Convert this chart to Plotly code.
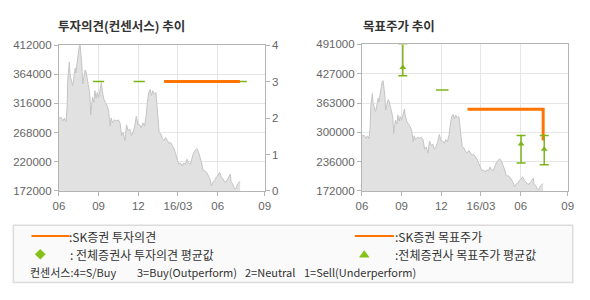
import plotly.graph_objects as go
import numpy as np

# ---- data ----
# x = months since 2015-06
price_x = [0.00,0.17,0.30,0.42,0.54,0.62,0.67,0.74,0.79,0.84,0.91,1.04,1.16,1.23,1.28,1.36,1.46,1.53,1.60,1.65,
           1.73,1.80,1.90,1.98,2.05,2.15,2.22,2.30,2.35,2.40,2.47,2.54,2.64,2.72,2.81,2.89,3.01,3.14,3.21,3.28,
           3.38,3.51,3.63,3.75,3.83,3.88,3.95,4.05,4.20,4.37,4.49,4.62,4.74,4.86,4.99,5.11,5.23,5.36,5.48,5.60,
           5.73,5.85,5.98,6.10,6.22,6.35,6.47,6.59,6.72,6.79,6.89,6.99,7.09,7.21,7.33,7.41,7.51,7.58,7.70,7.83,
           7.95,8.07,8.20,8.32,8.44,8.57,8.69,8.81,8.94,9.06,9.19,9.31,9.43,9.56,9.68,9.80,9.93,10.05,10.17,10.30,
           10.42,10.54,10.67,10.79,10.91,11.04,11.16,11.28,11.41,11.53,11.65,11.78,11.90,12.02,12.15,12.27,12.40,
           12.52,12.64,12.77,12.89,12.96,13.01,13.14,13.26,13.38,13.51,13.63,13.70]
price_y = [292000,293000,287000,292000,286000,310000,355000,379000,384000,363000,355000,345000,363000,374000,366000,
           381000,402000,409000,412000,402000,381000,348000,363000,371000,368000,358000,347000,337000,326000,297000,
           313000,326000,318000,337000,324000,334000,326000,339000,350000,337000,324000,318000,313000,305000,292000,
           279000,292000,284000,289000,287000,289000,284000,263000,268000,255000,281000,271000,274000,263000,268000,
           279000,295000,281000,281000,276000,284000,279000,295000,324000,334000,339000,329000,337000,331000,334000,
           308000,292000,268000,266000,258000,255000,260000,255000,250000,252000,247000,242000,234000,226000,216000,
           218000,213000,218000,216000,224000,218000,216000,226000,234000,239000,242000,237000,229000,218000,205000,
           205000,203000,197000,192000,181000,187000,189000,195000,197000,203000,195000,192000,187000,187000,192000,
           197000,200000,187000,184000,176000,176000,184000,187000,188000]

x_tick_vals = [0, 3, 6, 9, 12, 15.55]
x_tick_text = ["06", "09", "12", "16/03", "06", "09"]

opinion_x = [7.95, 13.68]
opinion_y = [3, 3]
cons_op_x = [3.0, 6.07, 12.03, 13.78]
cons_op_y = [3, 3, 3, 3]

target_x = [7.98, 13.70, 13.70]
target_y = [350000, 350000, 282000]
cons_tp_x = [3.09, 12.03, 13.78]
cons_tp_mean = [441000, 274000, 263000]
cons_tp_high = [492000, 293000, 293000]
cons_tp_low = [423000, 233000, 229000]
cons_tp_single_x = [6.07]
cons_tp_single_y = [392000]

left_y_ticks = [172000, 220000, 268000, 316000, 364000, 412000]
right_y_ticks = [0, 1, 2, 3, 4]
tp_tick_labels = ["172000", "236000", "300000", "363000", "427000", "491000"]

ORANGE = "#ff7300"
GREEN = "#7cb518"
AREA = "#e1e1e1"
AREA_LINE = "#c4c4c4"
GRID = "#e6e6e6"
AXIS = "#b4b4b4"
TXT = "#666666"
FONT = "Liberation Sans, Arial, sans-serif"
KFONT = "Noto Sans CJK KR, sans-serif"

fig = go.Figure()

# left chart
fig.add_trace(go.Scatter(x=price_x, y=price_y, mode="lines", fill="tozeroy", fillcolor=AREA,
                         line=dict(color=AREA_LINE, width=1), xaxis="x", yaxis="y", hoverinfo="skip"))
fig.add_trace(go.Scatter(x=cons_op_x, y=cons_op_y, mode="markers", xaxis="x", yaxis="y2",
                         marker=dict(symbol="line-ew", size=8, line=dict(color=GREEN, width=1.5))))
fig.add_trace(go.Scatter(x=opinion_x, y=opinion_y, mode="lines", xaxis="x", yaxis="y2",
                         line=dict(color=ORANGE, width=3)))

# right chart
fig.add_trace(go.Scatter(x=price_x, y=price_y, mode="lines", fill="tozeroy", fillcolor=AREA,
                         line=dict(color=AREA_LINE, width=1), xaxis="x2", yaxis="y3", hoverinfo="skip"))
fig.add_trace(go.Scatter(x=target_x, y=target_y, mode="lines", xaxis="x2", yaxis="y3",
                         line=dict(color=ORANGE, width=3)))
fig.add_trace(go.Scatter(
    x=cons_tp_x, y=cons_tp_mean, mode="markers", xaxis="x2", yaxis="y3", cliponaxis=False,
    marker=dict(symbol="triangle-up", size=6, color=GREEN),
    error_y=dict(type="data", symmetric=False,
                 array=[h - m for h, m in zip(cons_tp_high, cons_tp_mean)],
                 arrayminus=[m - l for m, l in zip(cons_tp_mean, cons_tp_low)],
                 color=GREEN, thickness=1.5, width=4.5)))
fig.add_trace(go.Scatter(x=cons_tp_single_x, y=cons_tp_single_y, mode="markers", xaxis="x2", yaxis="y3",
                         marker=dict(symbol="line-ew", size=9, line=dict(color=GREEN, width=1.5))))

ax_common = dict(showgrid=True, gridcolor=GRID, gridwidth=1, showline=True, linecolor=AXIS, linewidth=1,
                 mirror=True, ticks="outside", ticklen=4, tickcolor=AXIS, zeroline=False,
                 tickfont=dict(family=FONT, size=11.5, color=TXT))

tp_ticks = list(np.linspace(172000, 491000, len(tp_tick_labels)))

fig.update_layout(
    width=590, height=300, margin=dict(l=0, r=0, t=0, b=0),
    paper_bgcolor="white", plot_bgcolor="white", showlegend=False,
    xaxis=dict(domain=[54/590, 264/590], range=[0, 15.55], tickvals=x_tick_vals, ticktext=x_tick_text,
               anchor="y", **ax_common),
    yaxis=dict(domain=[107.3/300, 259.3/300], range=[172000, 412000], tickvals=left_y_ticks,
               ticktext=[str(v) for v in left_y_ticks], anchor="x", **ax_common),
    yaxis2=dict(range=[0, 4], tickvals=right_y_ticks, overlaying="y", side="right", anchor="x",
                showgrid=False, showline=False, ticks="outside", ticklen=4, tickcolor=AXIS, zeroline=False,
                tickfont=dict(family=FONT, size=11.5, color=TXT)),
    xaxis2=dict(domain=[363.3/590, 573.3/590], range=[0, 15.55], tickvals=x_tick_vals, ticktext=x_tick_text,
                anchor="y3", **ax_common),
    yaxis3=dict(domain=[107.3/300, 260/300], range=[172000, 491000], tickvals=tp_ticks,
                ticktext=tp_tick_labels, anchor="x2", **ax_common),
)

# titles
fig.add_annotation(text="<b>투자의견(컨센서스) 추이</b>", x=51/590, y=1-20/300, xref="paper", yref="paper",
                   xanchor="left", yanchor="middle", showarrow=False,
                   font=dict(family=KFONT, size=12.5, color="#333333"))
fig.add_annotation(text="<b>목표주가 추이</b>", x=362/590, y=1-20/300, xref="paper", yref="paper",
                   xanchor="left", yanchor="middle", showarrow=False,
                   font=dict(family=KFONT, size=12.5, color="#333333"))

# legend box
def px_x(v):
    return v / 590
def px_y(v):
    return 1 - v / 300

fig.add_shape(type="rect", xref="paper", yref="paper", x0=px_x(7.5), x1=px_x(578.5), y0=px_y(288), y1=px_y(228.5),
              line=dict(color="#dcdcdc", width=1.5), fillcolor="#fafafa", layer="below")
fig.add_shape(type="line", xref="paper", yref="paper", x0=px_x(26), x1=px_x(65), y0=px_y(239.5), y1=px_y(239.5),
              line=dict(color=ORANGE, width=2))
fig.add_shape(type="line", xref="paper", yref="paper", x0=px_x(356), x1=px_x(396), y0=px_y(239.5), y1=px_y(239.5),
              line=dict(color=ORANGE, width=2))
# diamond
cx, cy, r = 35, 258.5, 5.5
fig.add_shape(type="path", xref="paper", yref="paper",
              path=f"M {px_x(cx)} {px_y(cy-r)} L {px_x(cx+r)} {px_y(cy)} L {px_x(cx)} {px_y(cy+r)} L {px_x(cx-r)} {px_y(cy)} Z",
              fillcolor="#84c21a", line=dict(width=0))
# triangle
tx, ty = 365.7, 258.5
fig.add_shape(type="path", xref="paper", yref="paper",
              path=f"M {px_x(tx-5.5)} {px_y(ty+3.5)} L {px_x(tx+5.5)} {px_y(ty+3.5)} L {px_x(tx)} {px_y(ty-4)} Z",
              fillcolor="#84c21a", line=dict(width=0))

legend_items = [
    (62, 240, ":SK증권 투자의견", 12),
    (395, 240, ":SK증권 목표주가", 12),
    (63, 259, ": 전체증권사 투자의견 평균값", 12),
    (395, 259, ":전체증권사 목표주가 평균값", 12),
    (22, 277.5, "컨센서스:4=S/Buy", 11),
    (132, 277.5, "3=Buy(Outperform)", 11),
    (242, 277.5, "2=Neutral", 11),
    (302, 277.5, "1=Sell(Underperform)", 11),
]
for lx, ly, txt, fs in legend_items:
    fig.add_annotation(text=txt, x=px_x(lx), y=px_y(ly), xref="paper", yref="paper", xanchor="left",
                       yanchor="middle", showarrow=False,
                       font=dict(family=KFONT, size=fs, color="#333333"))

fig.write_html("out.html")
